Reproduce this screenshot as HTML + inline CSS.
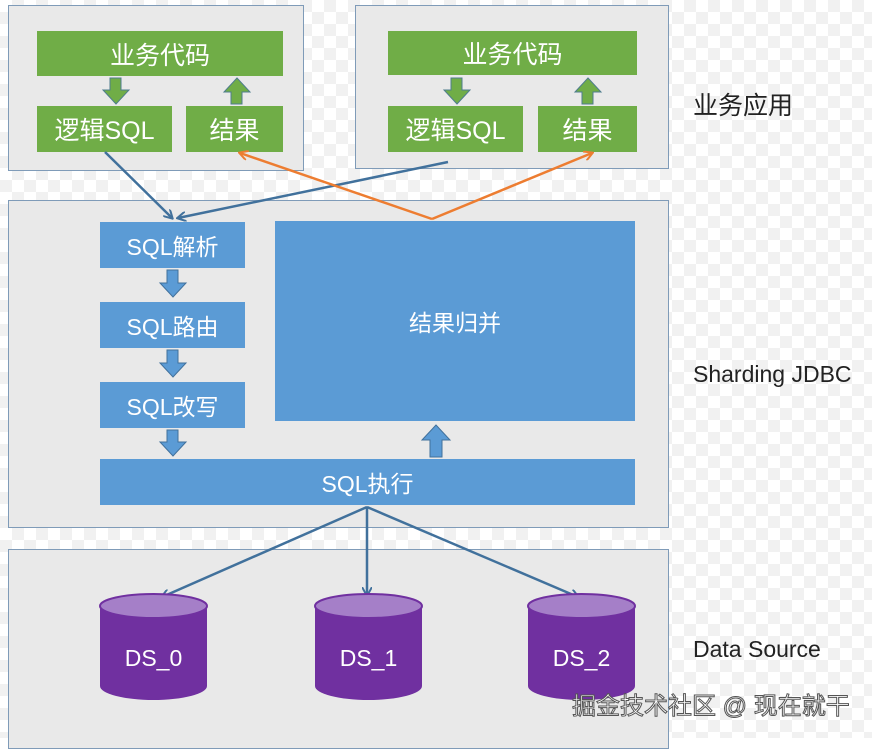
<!DOCTYPE html>
<html><head><meta charset="utf-8"><style>
body{margin:0;width:878px;height:738px;overflow:hidden;background:#fff;font-family:"Liberation Sans","Noto Sans CJK SC",sans-serif;}
.bg{position:absolute;left:0;top:0;width:872px;height:738px;background:repeating-conic-gradient(#f1f1f1 0 25%,#fff 0 50%) 0 0/24px 24px;}
.b{position:absolute;background:#e9e9e9;border:1.5px solid #7f9bb8;box-sizing:border-box;}
.g{position:absolute;background:#70ad47;color:#fff;font-size:25px;display:flex;align-items:center;justify-content:center;}
.u{position:absolute;background:#5b9bd5;color:#fff;font-size:23px;display:flex;align-items:center;justify-content:center;}
.l{position:absolute;font-size:23px;color:#222;}
.wm{position:absolute;left:572px;top:686px;font-size:24px;color:#fff;-webkit-text-stroke:1px #555;}
</style></head><body>
<div class="bg"></div>
<div class="b" style="left:8px;top:5px;width:296px;height:166px"></div>
<div class="b" style="left:355px;top:5px;width:314px;height:164px"></div>
<div class="b" style="left:8px;top:200px;width:661px;height:328px"></div>
<div class="b" style="left:8px;top:549px;width:661px;height:200px"></div>
<div class="g" style="left:37px;top:31px;width:246px;height:45px">业务代码</div>
<div class="g" style="left:37px;top:106px;width:135px;height:46px">逻辑SQL</div>
<div class="g" style="left:186px;top:106px;width:97px;height:46px">结果</div>
<div class="g" style="left:388px;top:31px;width:249px;height:44px">业务代码</div>
<div class="g" style="left:388px;top:106px;width:135px;height:46px">逻辑SQL</div>
<div class="g" style="left:538px;top:106px;width:99px;height:46px">结果</div>
<div class="u" style="left:100px;top:222px;width:145px;height:46px">SQL解析</div>
<div class="u" style="left:100px;top:302px;width:145px;height:46px">SQL路由</div>
<div class="u" style="left:100px;top:382px;width:145px;height:46px">SQL改写</div>
<div class="u" style="left:100px;top:459px;width:535px;height:46px">SQL执行</div>
<div class="u" style="left:275px;top:221px;width:360px;height:200px">结果归并</div>
<svg style="position:absolute;left:0;top:0" width="878" height="738">
<defs>
<marker id="ab" markerWidth="10" markerHeight="10" refX="8" refY="5" orient="auto" markerUnits="userSpaceOnUse"><path d="M0,0 L9,5 L0,10" fill="none" stroke="#41719c" stroke-width="2"/></marker>
<marker id="ao" markerWidth="10" markerHeight="10" refX="8" refY="5" orient="auto" markerUnits="userSpaceOnUse"><path d="M0,0 L9,5 L0,10" fill="none" stroke="#ed7d31" stroke-width="2"/></marker>
</defs>
<g fill="#70ad47" stroke="#4e7d8d" stroke-width="1">
<path d="M110,78h11v12h8l-13,14l-13,-14h7z"/>
<path d="M231,104h11v-12h8l-13,-14l-13,14h7z"/>
<path d="M451,78h11v12h8l-13,14l-13,-14h7z"/>
<path d="M582,104h11v-12h8l-13,-14l-13,14h7z"/>
</g>
<g fill="#5b9bd5" stroke="#41719c" stroke-width="1">
<path d="M167,270h11v13h8l-13,14l-13,-14h7z"/>
<path d="M167,350h11v13h8l-13,14l-13,-14h7z"/>
<path d="M167,430h11v12h8l-13,14l-13,-14h7z"/>
<path d="M430,457h12v-17h8l-14,-15l-14,15h8z"/>
</g>
<g stroke="#41719c" stroke-width="2.5" fill="none">
<line x1="105" y1="152" x2="172" y2="218" marker-end="url(#ab)"/>
<line x1="448" y1="162" x2="178" y2="218" marker-end="url(#ab)"/>
<line x1="367" y1="507" x2="162" y2="597" marker-end="url(#ab)"/>
<line x1="367" y1="507" x2="367" y2="595" marker-end="url(#ab)"/>
<line x1="367" y1="507" x2="578" y2="597" marker-end="url(#ab)"/>
</g>
<g stroke="#ed7d31" stroke-width="2.5" fill="none">
<line x1="432" y1="219" x2="240" y2="153" marker-end="url(#ao)"/>
<line x1="432" y1="219" x2="592" y2="153" marker-end="url(#ao)"/>
</g>
<g font-family="Liberation Sans, sans-serif" font-size="23" fill="#fff" text-anchor="middle">
<g><path d="M100,606 v80 a53.5,14 0 0 0 107,0 v-80z" fill="#7030a0"/><ellipse cx="153.5" cy="606" rx="53.5" ry="12" fill="#a57fc8" stroke="#7030a0" stroke-width="2"/><text x="153.5" y="666">DS_0</text></g>
<g><path d="M315,606 v80 a53.5,14 0 0 0 107,0 v-80z" fill="#7030a0"/><ellipse cx="368.5" cy="606" rx="53.5" ry="12" fill="#a57fc8" stroke="#7030a0" stroke-width="2"/><text x="368.5" y="666">DS_1</text></g>
<g><path d="M528,606 v80 a53.5,14 0 0 0 107,0 v-80z" fill="#7030a0"/><ellipse cx="581.5" cy="606" rx="53.5" ry="12" fill="#a57fc8" stroke="#7030a0" stroke-width="2"/><text x="581.5" y="666">DS_2</text></g>
</g>
</svg>
<div class="l" style="left:693px;top:86px;font-size:25px">业务应用</div>
<div class="l" style="left:693px;top:361px">Sharding JDBC</div>
<div class="l" style="left:693px;top:636px">Data Source</div>
<div class="wm">掘金技术社区 @ 现在就干</div>
</body></html>
